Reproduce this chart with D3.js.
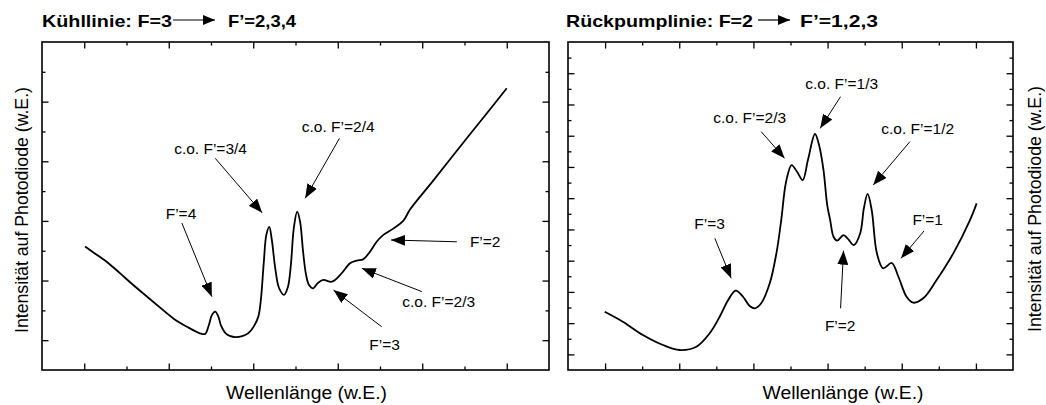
<!DOCTYPE html>
<html><head><meta charset="utf-8">
<script src="https://cdn.jsdelivr.net/npm/d3@7"></script>
<style>
body{margin:0;background:#fff}
svg{display:block}
text{font-family:"Liberation Sans",Arial,Helvetica,sans-serif;fill:#000}
</style>
</head><body>
<svg id="chart" width="1046" height="405"></svg>
<script>
// ---------- data ----------
const coolX = [1.02,1.25,1.53,1.85,2.16,2.63,3.11,3.43,3.74,3.86,3.95,4.02,4.10,4.17,4.24,4.36,4.57,4.88,5.02,5.12,5.18,5.25,5.31,5.38,5.44,5.52,5.61,5.73,5.82,5.89,5.96,6.04,6.11,6.18,6.25,6.32,6.42,6.53,6.66,6.86,7.09,7.29,7.45,7.60,7.76,7.92,8.08,8.32,8.55,8.71,9.26,9.89,10.53,11.0];
const coolY = [4.14,3.91,3.63,3.24,2.85,2.29,1.73,1.45,1.23,1.21,1.51,1.84,1.96,1.81,1.48,1.21,1.10,1.23,1.48,1.79,2.35,3.62,4.53,4.80,4.36,3.42,2.75,2.52,2.78,3.52,4.76,5.31,4.96,3.96,3.19,2.85,2.74,2.92,3.02,2.96,3.24,3.58,3.67,3.71,3.96,4.30,4.53,4.75,5.00,5.38,6.35,7.48,8.61,9.45];

const repumpX = [0.99,1.48,2.02,2.56,3.01,3.46,3.82,4.09,4.32,4.52,4.72,4.90,5.04,5.21,5.44,5.62,5.75,5.88,6.03,6.18,6.33,6.47,6.66,6.77,6.89,6.99,7.07,7.16,7.26,7.43,7.55,7.71,7.88,7.98,8.08,8.19,8.33,8.50,8.73,8.91,9.13,9.31,9.58,9.94,10.39,10.84,11.02];
const repumpY = [3.73,3.09,2.24,1.60,1.28,1.49,2.35,3.41,4.48,5.08,4.69,4.10,3.95,4.27,5.55,7.47,9.60,12.04,13.12,12.68,12.16,13.44,15.11,14.41,12.80,10.56,9.60,8.53,8.28,8.64,8.39,8.00,8.75,10.37,11.27,10.24,7.47,6.51,6.85,5.97,4.69,4.31,4.59,5.76,7.47,9.60,10.67];

// tick values (unlabelled)
const xMajorTicks = [1,3,5,7,9,11];
const xMinorTicks = [2,4,6,8,10];
const coolYMajorTicks = [1,3,5,7,9];
const coolYMinorTicks = [2,4,6,8,10];
const repumpYMajorTicks = [1,3,5,7,9,11,13,15,17,19];
const repumpYMinorTicks = [2,4,6,8,10,12,14,16,18,20];

// titles and axis labels
const titleLeft = ["Kühllinie: F=3", "F’=2,3,4"];
const titleRight = ["Rückpumplinie: F=2", "F’=1,2,3"];
const xAxisLabel = "Wellenlänge (w.E.)";
const yAxisLabel = "Intensität auf Photodiode (w.E.)";

// annotations: label, label x, label baseline y, arrow start x,y, arrow tip x,y (data units)
const coolNoteText = ["F’=4","c.o. F’=3/4","c.o. F’=2/4","F’=2","c.o. F’=2/3","F’=3"];
const coolNoteLabelX = [3.29,3.99,7.01,10.49,9.39,8.11];
const coolNoteLabelY = [5.06,7.24,7.99,4.12,2.10,0.67];
const coolNoteFromX = [3.31,4.10,7.04,9.82,8.99,8.04];
const coolNoteFromY = [4.93,7.10,7.77,4.30,2.63,1.45];
const coolNoteToX = [4.02,5.21,6.23,8.26,7.57,6.90];
const coolNoteToY = [2.46,5.27,5.76,4.36,3.41,2.68];

const repumpNoteText = ["F’=3","c.o. F’=2/3","c.o. F’=1/3","c.o. F’=1/2","F’=1","F’=2"];
const repumpNoteLabelX = [3.82,4.90,7.38,9.43,9.70,7.34];
const repumpNoteLabelY = [9.03,15.83,17.97,15.11,9.28,2.50];
const repumpNoteFromX = [3.96,5.21,7.35,9.22,9.60,7.35];
const repumpNoteFromY = [8.43,15.26,17.50,14.62,8.90,3.95];
const repumpNoteToX = [4.40,5.84,6.80,8.23,8.98,7.43];
const repumpNoteToY = [5.87,13.55,15.47,11.84,7.15,7.64];

// ---------- drawing ----------
const svg = d3.select("#chart");
const defs = svg.append("defs");
defs.append("marker").attr("id","ah").attr("markerUnits","userSpaceOnUse")
  .attr("viewBox","0 0 14 11").attr("markerWidth",14).attr("markerHeight",11)
  .attr("refX",14).attr("refY",5.5).attr("orient","auto")
  .append("path").attr("d","M0,0L14,5.5L0,11Z").attr("fill","#000");
defs.append("marker").attr("id","ahT").attr("markerUnits","userSpaceOnUse")
  .attr("viewBox","0 0 12 10").attr("markerWidth",12).attr("markerHeight",10)
  .attr("refX",12).attr("refY",5).attr("orient","auto")
  .append("path").attr("d","M0,0L12,5L0,10Z").attr("fill","#000");

function panel(cfg){
  const xs = d3.scaleLinear().domain([0,12]).range([cfg.x0,cfg.x1]);
  const ys = d3.scaleLinear().domain(cfg.yDom).range([cfg.y1,cfg.y0]);
  const g = svg.append("g");

  const axes = [
    [d3.axisBottom(xs), `translate(0,${cfg.y1})`, xMajorTicks, xMinorTicks],
    [d3.axisTop(xs), `translate(0,${cfg.y0})`, xMajorTicks, xMinorTicks],
    [d3.axisLeft(ys), `translate(${cfg.x0},0)`, cfg.yMajor, cfg.yMinor],
    [d3.axisRight(ys), `translate(${cfg.x1},0)`, cfg.yMajor, cfg.yMinor]
  ];
  axes.forEach(([ax, tr, maj, min]) => {
    [[maj,-6.5],[min,-3.5]].forEach(([vals,len]) => {
      const a = g.append("g").attr("transform",tr)
        .call(ax.tickValues(vals).tickSize(len).tickSizeOuter(0).tickFormat(""));
      a.select(".domain").remove();
      a.selectAll("line").attr("stroke","#000").attr("stroke-width",1.3);
    });
  });

  g.append("rect").attr("x",cfg.x0).attr("y",cfg.y0)
    .attr("width",cfg.x1-cfg.x0).attr("height",cfg.y1-cfg.y0)
    .attr("fill","none").attr("stroke","#000").attr("stroke-width",1.6);

  const line = d3.line().x((d,i)=>xs(cfg.dx[i])).y((d,i)=>ys(cfg.dy[i]))
    .curve(d3.curveCatmullRom.alpha(0.5));
  g.append("path").datum(cfg.dx).attr("d",line)
    .attr("fill","none").attr("stroke","#000").attr("stroke-width",1.8)
    .attr("stroke-linejoin","round");

  cfg.notes.text.forEach((t,i)=>{
    g.append("line")
      .attr("x1",xs(cfg.notes.fx[i])).attr("y1",ys(cfg.notes.fy[i]))
      .attr("x2",xs(cfg.notes.tx[i])).attr("y2",ys(cfg.notes.ty[i]))
      .attr("stroke","#000").attr("stroke-width",1).attr("marker-end","url(#ah)");
    g.append("text").attr("x",xs(cfg.notes.lx[i])).attr("y",ys(cfg.notes.ly[i]))
      .attr("text-anchor","middle").attr("font-size",15.5).text(t);
  });

  // axis titles
  g.append("text").attr("x",cfg.xLabelX).attr("y",399)
    .attr("text-anchor","middle").attr("font-size",18)
    .attr("textLength",161).attr("lengthAdjust","spacingAndGlyphs").text(xAxisLabel);
  g.append("text").attr("transform",`translate(${cfg.yLabelX},${cfg.yLabelY}) rotate(-90)`)
    .attr("text-anchor","middle").attr("font-size",17.5)
    .attr("textLength",246).attr("lengthAdjust","spacingAndGlyphs").text(yAxisLabel);

  // panel title
  g.append("text").attr("x",cfg.t1x).attr("y",27).attr("font-weight","bold")
    .attr("font-size",17).attr("textLength",cfg.t1w).attr("lengthAdjust","spacingAndGlyphs")
    .text(cfg.title[0]);
  g.append("line").attr("x1",cfg.ax0).attr("y1",20).attr("x2",cfg.ax1).attr("y2",20)
    .attr("stroke","#000").attr("stroke-width",1.2).attr("marker-end","url(#ahT)");
  g.append("text").attr("x",cfg.t2x).attr("y",27).attr("font-weight","bold")
    .attr("font-size",17).attr("textLength",cfg.t2w).attr("lengthAdjust","spacingAndGlyphs")
    .text(cfg.title[1]);
}

panel({
  x0:42, x1:549, y0:42, y1:370, yDom:[0,11],
  yMajor:coolYMajorTicks, yMinor:coolYMinorTicks,
  dx:coolX, dy:coolY,
  notes:{text:coolNoteText, lx:coolNoteLabelX, ly:coolNoteLabelY,
         fx:coolNoteFromX, fy:coolNoteFromY, tx:coolNoteToX, ty:coolNoteToY},
  xLabelX:306.5, yLabelX:28, yLabelY:210,
  title:titleLeft, t1x:42, t1w:130, ax0:173, ax1:215, t2x:228, t2w:68
});
panel({
  x0:568, x1:1013, y0:42, y1:370, yDom:[0,21],
  yMajor:repumpYMajorTicks, yMinor:repumpYMinorTicks,
  dx:repumpX, dy:repumpY,
  notes:{text:repumpNoteText, lx:repumpNoteLabelX, ly:repumpNoteLabelY,
         fx:repumpNoteFromX, fy:repumpNoteFromY, tx:repumpNoteToX, ty:repumpNoteToY},
  xLabelX:843, yLabelX:1041, yLabelY:209,
  title:titleRight, t1x:566, t1w:187, ax0:758, ax1:790, t2x:800, t2w:78
});
</script>
</body></html>
